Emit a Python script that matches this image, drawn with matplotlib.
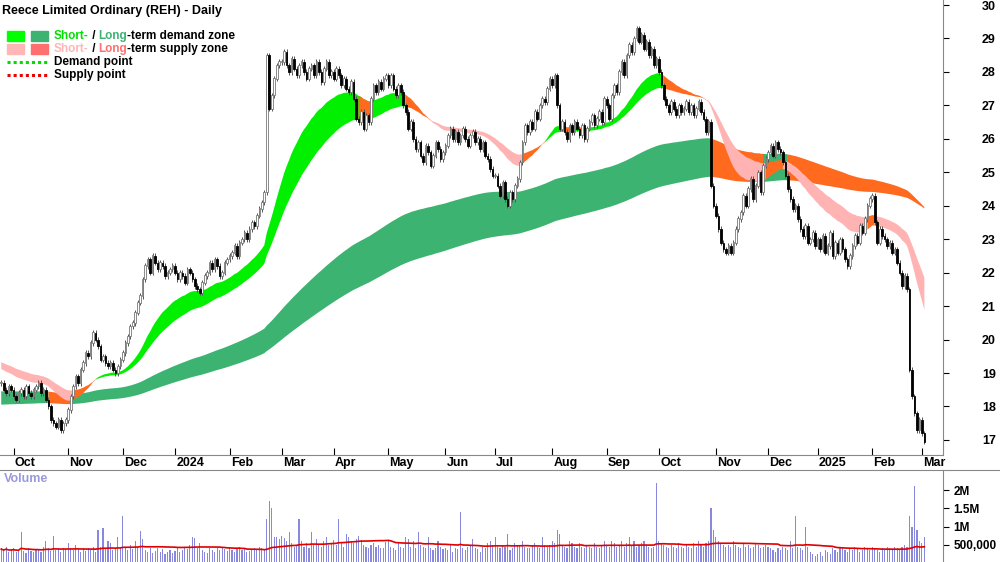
import numpy as np
import pandas as pd
import matplotlib
matplotlib.use("Agg")
import matplotlib.pyplot as plt
from matplotlib.patches import Rectangle

plt.rcParams['font.family'] = ['Liberation Sans', 'DejaVu Sans']

months = ["Sep", "Oct", "Nov", "Dec", "2024", "Feb", "Mar", "Apr", "May", "Jun", "Jul", "Aug",
          "Sep", "Oct", "Nov", "Dec", "2025", "Feb", "Mar"]
closes_by_month = [
    [18.7, 18.5, 18.4, 18.6, 18.5],
    [18.3, 18.2, 18.4, 18.5, 18.3, 18.6, 18.4, 18.3, 18.5, 18.6, 18.7, 18.4, 18.5, 18.2, 18.0, 17.6, 17.5, 17.4, 17.6, 17.3, 17.5, 17.6],
    [17.9, 18.3, 18.6, 18.9, 18.7, 19.1, 19.3, 19.6, 19.5, 19.9, 20.2, 20.0, 19.8, 19.4, 19.5, 19.3, 19.2, 19.3, 19.1, 19.0, 19.2, 19.4],
    [19.6, 19.9, 20.1, 20.4, 20.5, 20.8, 21.1, 21.3, 21.8, 22.2, 22.4, 22.0, 22.5, 22.3, 22.1, 22.3, 22.2, 21.9, 22.0, 22.1, 22.2],
    [22.0, 21.8, 22.0, 21.9, 21.7, 22.1, 22.0, 21.8, 21.6, 21.5, 21.4, 21.7, 21.9, 22.0, 22.3, 22.1, 22.4, 22.2, 21.9, 22.0, 22.3, 22.4],
    [22.5, 22.6, 22.8, 22.5, 22.9, 23.0, 23.2, 23.0, 23.3, 23.5, 23.4, 23.7, 23.9, 24.1, 24.4, 28.5, 26.9, 27.3, 27.8, 28.2, 28.3],
    [28.3, 28.6, 28.2, 28.0, 28.4, 28.1, 27.9, 28.2, 28.3, 28.0, 27.8, 28.1, 28.2, 27.9, 28.3, 28.0, 27.7, 28.1, 28.3, 27.9, 28.0],
    [27.8, 28.1, 27.9, 27.6, 27.8, 27.5, 27.4, 27.7, 27.2, 26.6, 26.5, 26.8, 26.3, 26.7, 26.5, 27.2, 27.6, 27.4, 27.7, 27.5, 27.8, 27.9],
    [27.6, 27.9, 27.5, 27.3, 27.6, 27.4, 27.0, 26.8, 26.3, 26.5, 26.0, 25.7, 25.9, 25.5, 25.3, 25.8, 25.6, 25.2, 25.5, 25.9, 25.7, 25.4, 25.6],
    [25.8, 26.1, 26.3, 26.0, 26.2, 25.9, 26.1, 26.3, 26.0, 25.8, 26.1, 26.2, 25.9, 26.0, 25.7, 25.9, 25.5, 25.4, 25.1, 24.9],
    [24.9, 24.6, 24.3, 24.7, 24.2, 24.0, 24.4, 24.2, 24.6, 24.8, 25.3, 25.9, 26.4, 26.2, 26.5, 26.3, 26.8, 26.6, 27.0, 27.2, 27.1, 27.5, 27.8],
    [27.6, 27.9, 27.0, 26.3, 26.5, 26.2, 26.0, 26.4, 26.2, 26.5, 26.3, 26.1, 26.4, 26.0, 26.3, 26.5, 26.7, 26.4, 26.6, 26.8, 26.5, 27.2],
    [27.0, 26.6, 27.3, 27.6, 27.4, 28.0, 28.3, 27.9, 28.5, 28.8, 28.6, 29.0, 29.3, 28.9, 29.1, 28.7, 28.9, 28.5, 28.7, 28.2, 28.4],
    [28.0, 27.6, 27.2, 27.0, 26.8, 27.1, 26.9, 26.7, 27.0, 26.8, 26.9, 27.1, 26.8, 27.0, 26.7, 26.9, 27.1, 26.8, 26.6, 26.2, 26.5, 24.6, 24.0],
    [23.7, 23.3, 22.9, 22.7, 22.6, 22.8, 22.6, 22.9, 23.3, 23.6, 23.8, 24.3, 24.0, 24.5, 24.8, 24.2, 24.6, 25.0, 24.4, 25.2, 25.4],
    [25.6, 25.8, 25.5, 25.9, 25.7, 25.6, 25.3, 24.9, 24.5, 24.2, 23.9, 24.0, 23.6, 23.3, 23.1, 23.4, 22.9, 23.0, 23.2, 22.8],
    [23.0, 22.7, 23.1, 22.6, 22.8, 23.2, 22.5, 22.9, 22.6, 23.0, 22.7, 22.4, 22.2, 22.5, 22.8, 23.1, 22.9, 23.4, 23.2, 23.6, 24.0, 24.2],
    [24.3, 23.5, 22.9, 23.3, 23.1, 23.0, 22.8, 22.9, 22.6, 22.7, 22.3, 22.0, 21.6, 21.9, 21.5, 19.1, 18.3, 17.8, 17.3, 17.6],
    [17.2, 16.95],
]
volume_by_month = [  # millions
    [0.40, 0.35, 0.45, 0.30, 0.38],
    [0.42, 0.30, 0.36, 0.85, 0.33, 0.28, 0.40, 0.32, 0.30, 0.38, 0.35, 0.30, 0.45, 0.60, 0.40, 0.33, 0.75, 0.35, 0.40, 0.30, 0.42, 0.38],
    [0.55, 0.40, 0.36, 0.50, 0.38, 0.30, 0.42, 0.33, 0.40, 0.35, 0.45, 0.30, 0.90, 0.45, 0.95, 0.40, 0.60, 0.55, 0.35, 0.40, 0.70, 0.45],
    [1.30, 0.40, 0.35, 0.50, 0.38, 0.60, 0.45, 0.88, 0.65, 0.35, 0.30, 0.40, 0.28, 0.33, 0.40, 0.30, 0.38, 0.25, 0.30, 0.35, 0.28],
    [0.32, 0.40, 0.30, 0.36, 0.45, 0.38, 0.50, 0.70, 0.68, 0.40, 0.55, 0.35, 0.30, 0.28, 0.40, 0.36, 0.30, 0.42, 0.35, 0.45, 0.38, 0.33],
    [0.40, 0.36, 0.30, 0.38, 0.45, 0.35, 0.42, 0.30, 0.33, 0.38, 0.40, 0.35, 0.45, 0.40, 0.38, 1.20, 1.70, 1.50, 0.70, 0.72, 0.65],
    [0.75, 0.68, 0.60, 0.85, 0.55, 0.45, 0.50, 1.20, 0.60, 0.45, 0.55, 0.40, 0.85, 0.50, 0.65, 0.52, 0.45, 0.60, 0.70, 0.50, 0.55],
    [0.62, 0.48, 1.20, 0.55, 0.45, 0.80, 0.70, 0.60, 0.55, 0.65, 0.75, 0.62, 0.50, 0.45, 0.40, 0.48, 0.55, 0.45, 0.50, 0.42, 0.40, 0.58],
    [0.60, 0.45, 0.40, 0.35, 0.55, 0.45, 0.40, 0.70, 0.65, 0.45, 0.60, 0.40, 0.85, 0.50, 0.45, 0.40, 0.70, 0.42, 0.35, 0.40, 0.60, 0.45, 0.38],
    [0.42, 0.35, 0.50, 0.30, 0.40, 0.38, 1.40, 0.40, 0.35, 0.45, 0.50, 0.65, 0.42, 0.38, 0.30, 0.45, 0.40, 0.55, 0.60, 0.50],
    [0.70, 0.45, 0.40, 0.50, 0.45, 0.80, 0.35, 0.40, 0.55, 0.48, 0.50, 0.60, 0.45, 0.42, 0.40, 0.50, 0.55, 0.45, 0.40, 0.70, 0.50, 0.45, 0.50],
    [0.60, 0.55, 0.90, 0.80, 0.50, 0.45, 0.40, 0.60, 0.55, 0.45, 0.40, 0.55, 0.45, 0.40, 0.50, 0.45, 0.40, 0.55, 0.45, 0.40, 0.50, 0.60],
    [0.50, 0.45, 0.60, 0.55, 0.45, 0.50, 0.60, 0.45, 0.55, 0.70, 0.50, 0.60, 0.45, 0.50, 0.55, 0.60, 0.50, 0.45, 0.40, 0.45, 2.20],
    [0.60, 0.55, 0.50, 0.45, 0.40, 0.50, 0.45, 0.40, 0.55, 0.45, 0.40, 0.50, 0.45, 0.40, 0.55, 0.45, 0.60, 0.50, 0.45, 0.55, 0.60, 1.50, 0.90],
    [0.70, 0.60, 0.55, 0.50, 0.45, 0.50, 0.45, 0.60, 0.50, 0.45, 0.40, 0.55, 0.45, 0.50, 0.40, 0.45, 0.55, 0.50, 0.40, 0.45, 0.50],
    [0.45, 0.40, 0.35, 0.30, 0.40, 0.35, 0.45, 0.40, 0.35, 0.60, 0.40, 1.30, 0.45, 0.40, 0.35, 1.00, 0.45, 0.30, 0.25, 0.20],
    [0.25, 0.30, 0.20, 0.35, 0.30, 0.25, 0.40, 0.35, 0.30, 0.45, 0.40, 0.35, 0.30, 0.40, 0.35, 0.45, 0.40, 0.30, 0.35, 0.45, 0.40, 0.35],
    [0.45, 0.40, 0.35, 0.30, 0.40, 0.35, 0.45, 0.40, 0.35, 0.45, 0.40, 0.35, 0.45, 0.50, 0.45, 1.30, 1.00, 2.10, 0.90, 0.60],
    [0.55, 0.70],
]
price_ticks = list(range(17, 31))
vol_ticks = [0.5, 1.0, 1.5, 2.0]
vol_tick_labels = ["500,000", "1M", "1.5M", "2M"]
short_periods = (30, 50)
long_periods = (180, 280)
short_start = (19.15, 19.35)
long_start = (18.45, 18.05)

closes = np.array([c for m in closes_by_month for c in m])
vols = np.array([v for m in volume_by_month for v in m])
month_start = np.cumsum([0] + [len(m) for m in closes_by_month])[:-1]
n = len(closes)
x = np.arange(n)
opens = np.concatenate([[closes[0]], closes[:-1]])
highs = np.maximum(opens, closes) + 0.08
lows = np.minimum(opens, closes) - 0.08


def ema(vals, period, start):
    a = 2.0 / (period + 1)
    out = np.empty(len(vals))
    prev = start
    for i, v in enumerate(vals):
        prev = prev + a * (v - prev)
        out[i] = prev
    return out

s_f = ema(closes, short_periods[0], short_start[0])
s_s = ema(closes, short_periods[1], short_start[1])
l_f = ema(closes, long_periods[0], long_start[0])
l_s = ema(closes, long_periods[1], long_start[1])


def states(f, s):
    lo = np.minimum(f, s)
    hi = np.maximum(f, s)
    st = np.where((f >= s) & (closes >= lo), 0, np.where((f < s) & (closes <= hi), 2, 1))
    return st

fig = plt.figure(figsize=(10, 5.62), dpi=100)
ax = fig.add_axes([0, 1 - 455 / 562, 0.943, 455 / 562])
axv = fig.add_axes([0, -1 / 562, 0.943, 93 / 562])

ORANGE = "#FF6A1F"
def draw_band(f, s, cols):
    st = states(f, s)
    lo = np.minimum(f, s)
    hi = np.maximum(f, s)
    for k in range(3):
        mask = st == k
        m2 = mask.copy()
        m2[1:] |= mask[:-1]
        ax.fill_between(x, lo, hi, where=m2, color=cols[k], lw=0, zorder=1)

draw_band(l_f, l_s, ["#3CB371", ORANGE, "#FF6F6F"])
draw_band(s_f, s_s, ["#00F000", ORANGE, "#FFB3B3"])

up = closes >= opens
ax.vlines(x, lows, highs, color="#555555", lw=0.7, zorder=2)
ax.bar(x[up], (closes - opens)[up] + 0.02, bottom=opens[up], width=0.65, color="white",
       edgecolor="#777777", lw=0.6, zorder=3)
ax.bar(x[~up], (opens - closes)[~up], bottom=closes[~up], width=0.65, color="black",
       edgecolor="black", lw=0.6, zorder=3)

xmax = n + 6.5
ax.set_xlim(-0.5, xmax)
ax.set_ylim(16.55, 30.15)
ax.yaxis.tick_right()
ax.set_yticks(price_ticks)
ax.tick_params(axis="y", direction="out", length=4, labelsize=9, pad=24)
for lab in ax.get_yticklabels():
    lab.set_fontweight("bold")
ax.set_xticks(month_start[1:])
ax.tick_params(axis="x", direction="in", length=5, labelbottom=False)
for sp in ["top", "left"]:
    ax.spines[sp].set_visible(False)
for sp in ["bottom", "right"]:
    ax.spines[sp].set_color("#888888")
for i, m in zip(month_start[1:], months[1:]):
    ax.text(i + 0.5, -0.005, m, transform=ax.get_xaxis_transform(), ha="left", va="top",
            fontsize=9, fontweight="bold")

ax.text(0.002, 0.99, "Reece Limited Ordinary (REH) - Daily", transform=ax.transAxes,
        fontsize=9, fontweight="bold", va="top")

# legend
fig.canvas.draw()
r = fig.canvas.get_renderer()
def seq(xpx, ypx, parts):
    for s, c in parts:
        t = fig.text(xpx / 1000, 1 - ypx / 562, s, color=c, fontsize=8.5, fontweight="bold", va="center")
        xpx += t.get_window_extent(r).width
rows = [
    (36, ["#00FF00", "#3CB371"], [("Short-", "#00E000"), (" / ", "black"), ("Long", "#3CB371"), ("-term demand zone", "black")]),
    (49, ["#FFB6B6", "#FF6F6F"], [("Short-", "#FFB6B6"), (" / ", "black"), ("Long", "#FF6F6F"), ("-term supply zone", "black")]),
]
for ypx, cols, parts in rows:
    fig.patches.append(Rectangle((7 / 1000, 1 - (ypx + 5) / 562), 17 / 1000, 10 / 562, color=cols[0], transform=fig.transFigure))
    fig.patches.append(Rectangle((31 / 1000, 1 - (ypx + 5) / 562), 17 / 1000, 10 / 562, color=cols[1], transform=fig.transFigure))
    seq(54, ypx, parts)
for ypx, col, lab in [(62, "#00DD00", "Demand point"), (75, "#EE0000", "Supply point")]:
    fig.add_artist(plt.Line2D([7 / 1000, 48 / 1000], [1 - ypx / 562] * 2, color=col, lw=2.2,
                              ls=(0, (1, 1)), transform=fig.transFigure))
    fig.text(54 / 1000, 1 - ypx / 562, lab, fontsize=8.5, fontweight="bold", va="center")

# volume
axv.bar(x, vols, width=0.45, color="#8888DD", zorder=2)
vma = pd.Series(vols).rolling(50, min_periods=1).mean().values * 0.95
axv.plot(x, vma, color="#E00000", lw=1.2, zorder=3)
axv.set_xlim(-0.5, xmax)
axv.set_ylim(0, 2.55)
axv.yaxis.tick_right()
axv.set_yticks(vol_ticks)
axv.set_yticklabels(vol_tick_labels)
axv.tick_params(axis="y", direction="out", length=4, labelsize=8.5)
for lab in axv.get_yticklabels():
    lab.set_fontweight("bold")
axv.set_xticks([])
for sp in ["top", "left", "bottom"]:
    axv.spines[sp].set_visible(False)
axv.spines["right"].set_color("#888888")
axv.text(0.004, 0.97, "Volume", transform=axv.transAxes, color="#9999DD", fontsize=9,
         fontweight="bold", va="top")
fig.add_artist(plt.Line2D([0, 1], [1 - 470 / 562] * 2, color="#888888", lw=0.8, transform=fig.transFigure))

fig.savefig("out.png", dpi=100)
